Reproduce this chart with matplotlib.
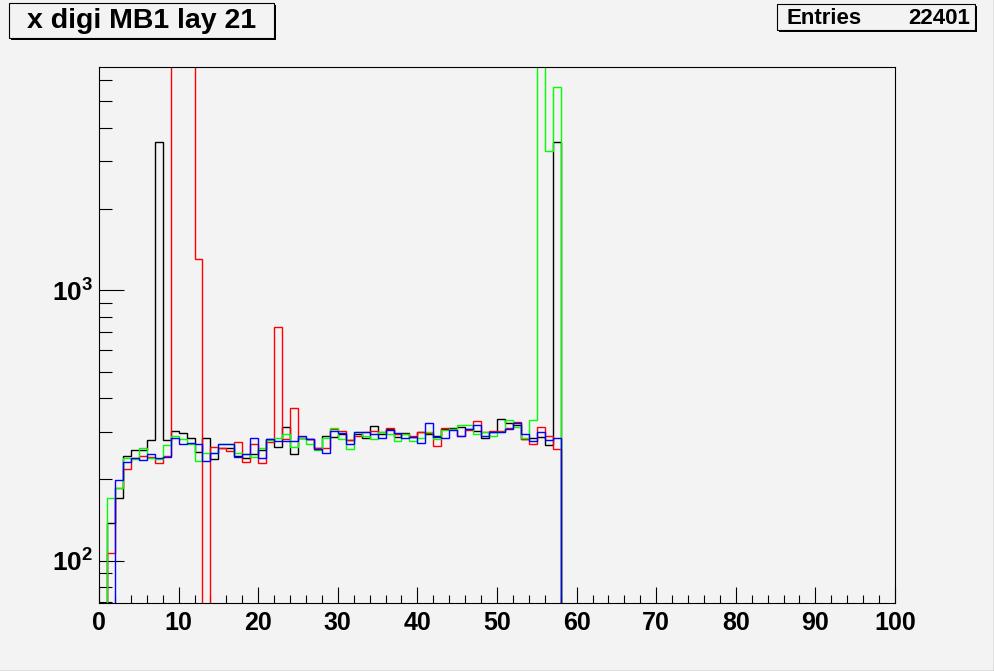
import numpy as np
import matplotlib.pyplot as plt
from matplotlib.patches import Rectangle
from matplotlib.lines import Line2D
from matplotlib.ticker import MultipleLocator, FixedLocator, LogLocator, NullFormatter, FuncFormatter

plt.rcParams["font.family"] = ["Liberation Sans", "DejaVu Sans"]
plt.rcParams["mathtext.fontset"] = "custom"
plt.rcParams["mathtext.rm"] = "Liberation Sans"
plt.rcParams["mathtext.bf"] = "Liberation Sans:bold"

# ------------------------------------------------------------
# data: contents of bins 0..57 (bins 58..99 are empty)
# ------------------------------------------------------------
TITLE = "x digi MB1 lay 21"
ENTRIES = "22401"
N_BINS = 100
X_RANGE = (0, 100)
Y_RANGE = (69.7, 6700)

layer_black = [0, 138, 171, 244, 256, 256, 279, 3532, 280, 301,
               296, 284, 253, 283, 237, 261, 262, 244, 239, 249,
               256, 281, 264, 311, 247, 283, 281, 262, 290, 287,
               295, 279, 295, 283, 316, 293, 308, 286, 297, 287,
               300, 295, 290, 308, 310, 313, 307, 302, 283, 299,
               333, 324, 318, 281, 283, 286, 268, 3532]
layer_red = [0, 107, 185, 218, 239, 243, 241, 229, 243, 9000,
             9000, 9000, 1306, 0, 264, 261, 254, 274, 231, 269,
             229, 274, 730, 281, 366, 285, 281, 262, 262, 306,
             302, 279, 289, 298, 301, 300, 310, 295, 295, 289,
             300, 297, 266, 310, 308, 290, 305, 328, 298, 302,
             302, 310, 325, 282, 270, 311, 288, 258]
layer_green = [0, 171, 186, 240, 237, 262, 239, 237, 267, 288,
               281, 271, 234, 251, 251, 271, 269, 251, 249, 241,
               262, 279, 285, 294, 264, 285, 269, 256, 285, 310,
               281, 258, 300, 290, 281, 298, 295, 277, 294, 277,
               283, 298, 281, 303, 306, 318, 318, 295, 300, 290,
               300, 331, 313, 283, 331, 12000, 3275, 5646]
layer_blue = [0, 0, 198, 231, 240, 235, 249, 239, 242, 285,
              271, 272, 269, 233, 251, 271, 271, 242, 249, 285,
              239, 281, 276, 276, 276, 288, 281, 258, 251, 302,
              297, 270, 300, 298, 295, 283, 305, 297, 283, 286,
              273, 324, 287, 283, 305, 289, 307, 317, 290, 298,
              298, 307, 322, 295, 276, 298, 279, 283]

LAYERS = [
    (layer_black, "black"),
    (layer_red, "#ff0000"),
    (layer_green, "#00ff00"),
    (layer_blue, "#0000ff"),
]

BG = "#f3f3f3"
W, H = 995, 671


def px_box(x0, y0, x1, y1):
    # pixel box (from top-left) -> figure fraction rect
    return (x0 / W, 1 - y1 / H), (x1 - x0) / W, (y1 - y0) / H


fig = plt.figure(figsize=(W / 100, H / 100), dpi=100, facecolor=BG)
ax = fig.add_axes([99 / W, 1 - 603 / H, (895 - 99) / W, (603 - 67) / H], facecolor=BG)

edges = np.linspace(X_RANGE[0], X_RANGE[1], N_BINS + 1)
for vals, col in LAYERS:
    v = np.zeros(N_BINS)
    v[:len(vals)] = vals
    v = np.where(v > 0, v, Y_RANGE[0] * 0.5)  # empty bins drop below the frame
    ax.stairs(v, edges, color=col, linewidth=1.0, baseline=None, zorder=2)

ax.set_yscale("log")
ax.set_xlim(*X_RANGE)
ax.set_ylim(*Y_RANGE)

ax.xaxis.set_major_locator(MultipleLocator(10))
ax.xaxis.set_minor_locator(MultipleLocator(2))
ax.yaxis.set_major_locator(FixedLocator([100, 1000]))
ax.yaxis.set_minor_locator(LogLocator(base=10, subs=np.arange(2, 10), numticks=20))
ax.yaxis.set_minor_formatter(NullFormatter())
ax.yaxis.set_major_formatter(FuncFormatter(lambda v, p: r"$\mathbf{10^{%d}}$" % round(np.log10(v))))

ax.tick_params(which="both", direction="in", top=False, right=False, width=0.8, color="black")
ax.tick_params(axis="x", which="major", length=11.5, pad=5.5, labelsize=18)
ax.tick_params(axis="x", which="minor", length=5.8)
ax.tick_params(axis="y", which="major", length=18, pad=4, labelsize=19)
ax.tick_params(axis="y", which="minor", length=9.1)
for lab in ax.get_xticklabels():
    lab.set_fontweight("bold")
for s in ax.spines.values():
    s.set_linewidth(0.8)
    s.set_color("black")
    s.set_zorder(3)

# title box with shadow
(x, y), w, h = px_box(11, 5, 276, 40)
fig.add_artist(Rectangle((x, y), w, h, transform=fig.transFigure, facecolor="black", edgecolor="none"))
(x, y), w, h = px_box(9, 3, 274, 38)
fig.add_artist(Rectangle((x, y), w, h, transform=fig.transFigure, facecolor=BG, edgecolor="black", linewidth=0.8))
fig.text(142 / W, 1 - 21 / H, TITLE, ha="center", va="center", fontsize=20.5, fontweight="bold")

# stats box
(x, y), w, h = px_box(779, 6, 977, 32)
fig.add_artist(Rectangle((x, y), w, h, transform=fig.transFigure, facecolor="black", edgecolor="none"))
(x, y), w, h = px_box(777, 4, 975, 30)
fig.add_artist(Rectangle((x, y), w, h, transform=fig.transFigure, facecolor=BG, edgecolor="black", linewidth=0.8))
fig.text(787 / W, 1 - 18 / H, "Entries", ha="left", va="center", fontsize=16, fontweight="bold")
fig.text(970 / W, 1 - 18 / H, ENTRIES, ha="right", va="center", fontsize=16, fontweight="bold")

# canvas border
fig.add_artist(Line2D([1 - 0.5 / W, 1 - 0.5 / W], [0, 1], transform=fig.transFigure, color="#909090", linewidth=1))
fig.add_artist(Line2D([0, 1], [0.5 / H, 0.5 / H], transform=fig.transFigure, color="#909090", linewidth=1))

fig.savefig("out.png", dpi=100, facecolor=BG)
